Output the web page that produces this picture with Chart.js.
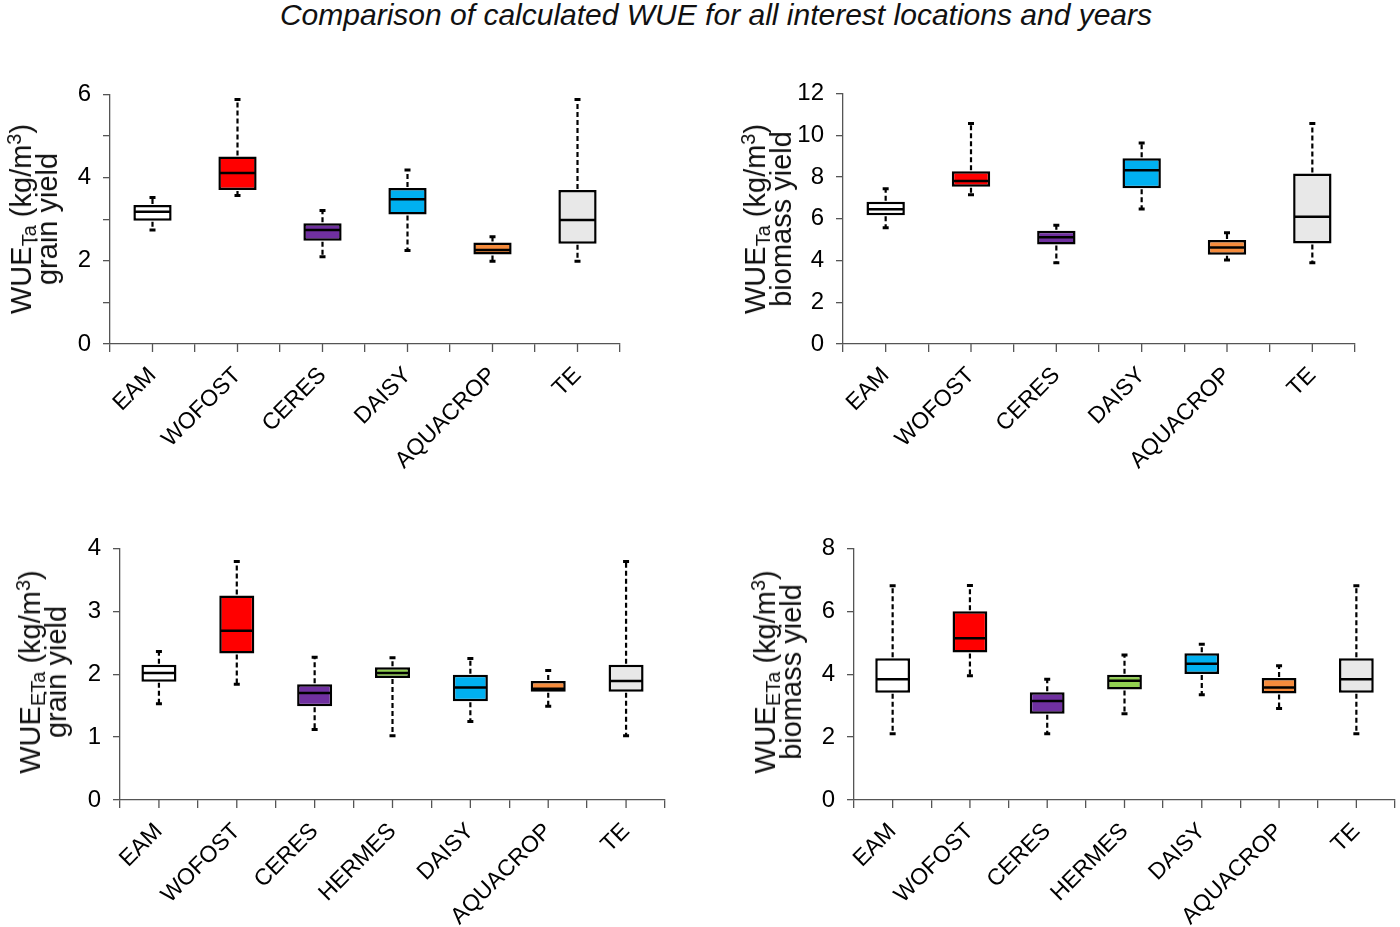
<!DOCTYPE html>
<html>
<head>
<meta charset="utf-8">
<script src="https://cdn.jsdelivr.net/npm/chart.js@4.4.1/dist/chart.umd.min.js"></script>
<style>
  body { margin: 0; background: #fff; width: 1400px; height: 927px; position: relative; overflow: hidden; font-family: "Liberation Sans", Arial, sans-serif; }
  .panel { position: absolute; }
  #title { position: absolute; left: 0; width: 1432px; top: -2px; text-align: center; font-style: italic; font-size: 30px; color: #111; }
  .ytitle { position: absolute; transform: translate(-50%, -50%) rotate(-90deg); white-space: nowrap; text-align: center; font-size: 29px; line-height: 26px; color: #111; }
  .ytitle sub { font-size: 20px; vertical-align: -5px; line-height: 0; }
  .ytitle sup { font-size: 20px; vertical-align: 10px; line-height: 0; }
</style>
</head>
<body>
<div id="title">Comparison of calculated WUE for all interest locations and years</div>

<div class="panel" style="left:50px;top:68px;width:590px;height:425px"><canvas id="c1"></canvas></div>
<div class="panel" style="left:783px;top:67px;width:597px;height:425px"><canvas id="c2"></canvas></div>
<div class="panel" style="left:60px;top:522px;width:625px;height:405px"><canvas id="c3"></canvas></div>
<div class="panel" style="left:794px;top:522px;width:606px;height:405px"><canvas id="c4"></canvas></div>

<div class="ytitle" style="left:34px;top:219px">WUE<sub>Ta</sub> (kg/m<sup>3</sup>)<br>grain yield</div>
<div class="ytitle" style="left:768px;top:219px">WUE<sub>Ta</sub> (kg/m<sup>3</sup>)<br>biomass yield</div>
<div class="ytitle" style="left:43px;top:672px">WUE<sub>ETa</sub> (kg/m<sup>3</sup>)<br>grain yield</div>
<div class="ytitle" style="left:778px;top:672px">WUE<sub>ETa</sub> (kg/m<sup>3</sup>)<br>biomass yield</div>

<script>
// カテゴリ（モデル名）
const modelsTa = ['EAM', 'WOFOST', 'CERES', 'DAISY', 'AQUACROP', 'TE'];
const modelsETa = ['EAM', 'WOFOST', 'CERES', 'HERMES', 'DAISY', 'AQUACROP', 'TE'];

// 色
const colorsTa = ['#ffffff', '#ff0000', '#7030a0', '#00b0f0', '#f58b3c', '#e8e8e8'];
const colorsETa = ['#ffffff', '#ff0000', '#7030a0', '#92d050', '#00b0f0', '#f58b3c', '#e8e8e8'];

// WUE_Ta grain yield
const taGrainMin = [2.74, 3.57, 2.10, 2.25, 1.99, 1.99];
const taGrainQ1  = [2.96, 3.70, 2.48, 3.11, 2.15, 2.41];
const taGrainMed = [3.18, 4.11, 2.74, 3.48, 2.26, 2.98];
const taGrainQ3  = [3.34, 4.51, 2.90, 3.75, 2.44, 3.70];
const taGrainMax = [3.52, 5.88, 3.21, 4.18, 2.58, 5.88];

// WUE_Ta biomass yield
const taBioMin = [5.57, 7.15, 3.89, 6.47, 4.02, 3.89];
const taBioQ1  = [6.17, 7.53, 4.76, 7.46, 4.27, 4.81];
const taBioMed = [6.45, 7.81, 5.11, 8.32, 4.62, 6.09];
const taBioQ3  = [6.81, 8.27, 5.42, 8.89, 4.98, 8.17];
const taBioMax = [7.43, 10.56, 5.69, 9.63, 5.33, 10.56];

// WUE_ETa grain yield
const etaGrainMin = [1.53, 1.84, 1.12, 1.02, 1.25, 1.49, 1.02];
const etaGrainQ1  = [1.88, 2.33, 1.49, 1.94, 1.57, 1.72, 1.72];
const etaGrainMed = [2.02, 2.69, 1.70, 2.02, 1.79, 1.77, 1.89];
const etaGrainQ3  = [2.15, 3.25, 1.84, 2.11, 1.99, 1.89, 2.15];
const etaGrainMax = [2.36, 3.79, 2.27, 2.26, 2.25, 2.06, 3.79];

// WUE_ETa biomass yield
const etaBioMin = [2.11, 3.95, 2.11, 2.74, 3.35, 2.91, 2.11];
const etaBioQ1  = [3.41, 4.69, 2.74, 3.51, 4.01, 3.39, 3.41];
const etaBioMed = [3.84, 5.14, 3.15, 3.79, 4.33, 3.58, 3.84];
const etaBioQ3  = [4.51, 6.00, 3.43, 3.98, 4.67, 3.88, 4.51];
const etaBioMax = [6.81, 6.82, 3.84, 4.61, 4.95, 4.27, 6.81];

const FONT = '"Liberation Sans", Arial, sans-serif';

// ひげ・中央値・中央の目盛りを描くプラグイン
const whiskerPlugin = {
    id: 'whiskers',
    afterDatasetsDraw(chart, args, opts) {
        const ctx = chart.ctx;
        const x = chart.scales.x, y = chart.scales.y;
        const meta = chart.getDatasetMeta(0);
        ctx.save();
        // x軸の中央目盛り
        ctx.strokeStyle = '#555';
        ctx.lineWidth = 1.3;
        opts.mins.forEach((_, i) => {
            const px = x.getPixelForValue(i);
            ctx.beginPath();
            ctx.moveTo(px, chart.chartArea.bottom);
            ctx.lineTo(px, chart.chartArea.bottom + 8);
            ctx.stroke();
        });
        opts.mins.forEach((mn, i) => {
            const bar = meta.data[i];
            const cx = bar.x;
            const half = bar.width / 2;
            const yMin = y.getPixelForValue(mn);
            const yQ1 = y.getPixelForValue(opts.q1s[i]);
            const yQ3 = y.getPixelForValue(opts.q3s[i]);
            const yMax = y.getPixelForValue(opts.maxs[i]);
            const yMed = y.getPixelForValue(opts.meds[i]);
            ctx.strokeStyle = '#000';
            // 点線のひげ
            ctx.lineWidth = 2.2;
            ctx.setLineDash([5, 3]);
            ctx.beginPath();
            ctx.moveTo(cx, yQ3 - 1); ctx.lineTo(cx, yMax);
            ctx.moveTo(cx, yQ1 + 1); ctx.lineTo(cx, yMin);
            ctx.stroke();
            ctx.setLineDash([]);
            // ひげの端
            ctx.lineWidth = 3;
            ctx.beginPath();
            ctx.moveTo(cx - 3, yMax); ctx.lineTo(cx + 3, yMax);
            ctx.moveTo(cx - 3, yMin); ctx.lineTo(cx + 3, yMin);
            ctx.stroke();
            // 中央値
            ctx.lineWidth = 2.5;
            ctx.beginPath();
            ctx.moveTo(cx - half + 1, yMed); ctx.lineTo(cx + half - 1, yMed);
            ctx.stroke();
        });
        ctx.restore();
    }
};

function makePanel(id, cats, colors, mins, q1s, meds, q3s, maxs, yMax, step, labelEven, yWidth, xHeight, padRight) {
    const ctx = document.getElementById(id).getContext('2d');
    new Chart(ctx, {
        type: 'bar',
        data: {
            labels: cats,
            datasets: [{
                data: q1s.map((q, i) => [q, q3s[i]]),//箱（第1四分位〜第3四分位）
                backgroundColor: colors,
                borderColor: '#000',
                borderWidth: 2.5,
                borderSkipped: false,
                barPercentage: 0.45,
                categoryPercentage: 1
            }]
        },
        options: {
            responsive: true,
            maintainAspectRatio: false,
            animation: false,
            layout: { padding: { top: 15, right: padRight, left: 0, bottom: 0 } },
            plugins: {
                legend: { display: false },
                tooltip: { enabled: false },
                whiskers: { mins, q1s, meds, q3s, maxs }
            },
            scales: {
                x: {
                    offset: true,
                    grid: { offset: true, drawOnChartArea: false, tickLength: 8, color: '#555', lineWidth: 1.3 },
                    border: { color: '#555', width: 1.3 },
                    ticks: {
                        color: '#000',
                        font: { family: FONT, size: 23 },
                        maxRotation: 45, minRotation: 45,
                        padding: 10,
                        autoSkip: false
                    },
                    afterFit: s => { s.height = xHeight; }
                },
                y: {
                    min: 0, max: yMax,
                    grid: { drawOnChartArea: false, tickLength: 7, color: '#555', lineWidth: 1.3 },
                    border: { color: '#555', width: 1.3 },
                    ticks: {
                        stepSize: step,
                        color: '#000',
                        font: { family: FONT, size: 24 },
                        padding: 12,
                        callback: v => (labelEven && v % 2 !== 0) ? '' : v
                    },
                    afterFit: s => { s.width = yWidth; }
                }
            }
        },
        plugins: [whiskerPlugin]
    });
}

makePanel('c1', modelsTa, colorsTa, taGrainMin, taGrainQ1, taGrainMed, taGrainQ3, taGrainMax, 6, 1, true, 60, 149, 20);
makePanel('c2', modelsTa, colorsTa, taBioMin, taBioQ1, taBioMed, taBioQ3, taBioMax, 12, 2, false, 60, 148, 25);
makePanel('c3', modelsETa, colorsETa, etaGrainMin, etaGrainQ1, etaGrainMed, etaGrainQ3, etaGrainMax, 4, 1, false, 60, 127, 20);
makePanel('c4', modelsETa, colorsETa, etaBioMin, etaBioQ1, etaBioMed, etaBioQ3, etaBioMax, 8, 1, true, 60, 127, 5);
</script>
</body>
</html>
